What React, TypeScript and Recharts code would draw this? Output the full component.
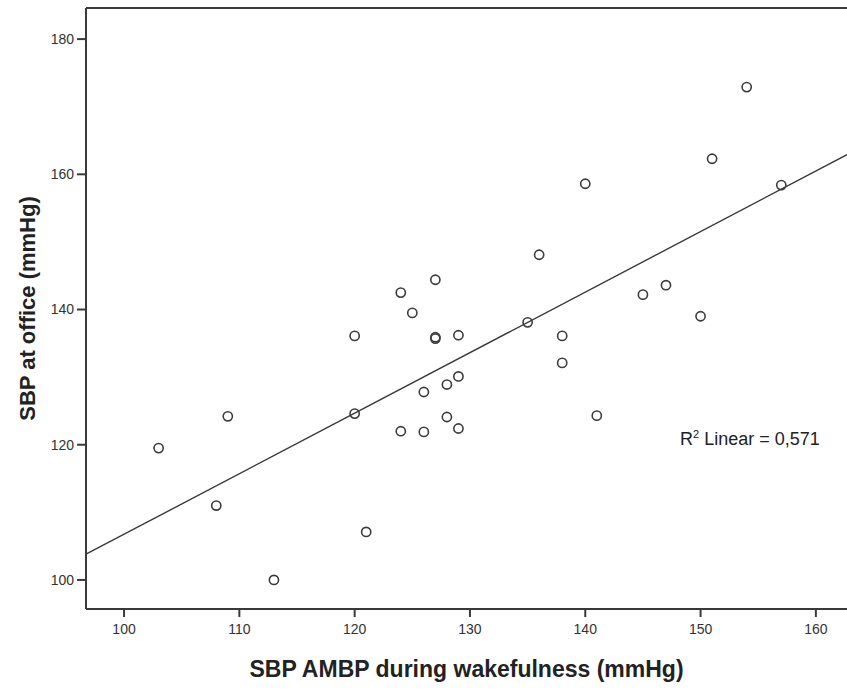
import React from 'react';
import { ScatterChart, Scatter, XAxis, YAxis, ReferenceLine } from 'recharts';

// SBP AMBP during wakefulness (x) vs SBP at office (y)
const ambpValues = [103, 109, 108, 113, 120, 120, 121, 124, 124, 125, 126, 126, 127, 127, 127, 128, 128, 129, 129, 129, 135, 136, 138, 138, 140, 141, 145, 147, 150, 151, 154, 157];
const officeValues = [119.5, 124.2, 111.0, 100.0, 124.6, 136.1, 107.1, 142.5, 122.0, 139.5, 127.8, 121.9, 144.4, 135.9, 135.7, 128.9, 124.1, 136.2, 130.1, 122.4, 138.1, 148.1, 136.1, 132.1, 158.6, 124.3, 142.2, 143.6, 139.0, 162.3, 172.9, 158.4];

const xTicks = [100, 110, 120, 130, 140, 150, 160];
const yTicks = [100, 120, 140, 160, 180];

// fit line ends, read at the plot edges
const fitX = [96.7, 162.7];
const fitY = [103.8, 162.9];

const points = ambpValues.map((x, i) => ({ x, y: officeValues[i] }));

const X_DOMAIN = [96.7, 162.7];
const Y_DOMAIN = [95.7, 184.6];

const axisColor = '#3a3a3a';
const font = '"Liberation Sans", Arial, sans-serif';

const Ring = (props: any) => {
  const { cx, cy } = props;
  if (cx == null || cy == null) return null;
  return <circle cx={cx} cy={cy} r={4.6} fill="none" stroke="#3c3c3c" strokeWidth={1.6} />;
};

export default function App() {
  return (
    <div style={{ position: 'absolute', left: 0, top: 0, width: 847, height: 691, background: '#fff', fontFamily: font }}>
      <ScatterChart width={847} height={691} margin={{ top: 8, right: 0, bottom: 0, left: 0 }}>
        <XAxis
          type="number"
          dataKey="x"
          domain={X_DOMAIN}
          ticks={xTicks}
          allowDataOverflow
          height={82}
          axisLine={{ stroke: axisColor, strokeWidth: 2 }}
          tickLine={{ stroke: axisColor, strokeWidth: 2 }}
          tickSize={8}
          tickMargin={7}
          tick={{ fill: '#333', fontSize: 14, fontFamily: font }}
          label={{
            value: 'SBP AMBP during wakefulness (mmHg)',
            position: 'insideBottom',
            offset: 14,
            style: { fill: '#222', fontSize: 23, fontWeight: 'bold', fontFamily: font },
          }}
        />
        <YAxis
          type="number"
          dataKey="y"
          domain={Y_DOMAIN}
          ticks={yTicks}
          allowDataOverflow
          width={86}
          axisLine={{ stroke: axisColor, strokeWidth: 2 }}
          tickLine={{ stroke: axisColor, strokeWidth: 2 }}
          tickSize={9}
          tickMargin={3}
          tick={{ fill: '#333', fontSize: 14, fontFamily: font }}
          label={{
            value: 'SBP at office (mmHg)',
            angle: -90,
            position: 'insideLeft',
            offset: 27,
            style: { fill: '#222', fontSize: 22, fontWeight: 'bold', fontFamily: font, textAnchor: 'middle' },
          }}
        />
        <ReferenceLine y={Y_DOMAIN[1]} stroke={axisColor} strokeWidth={2} />
        <ReferenceLine
          segment={[{ x: fitX[0], y: fitY[0] }, { x: fitX[1], y: fitY[1] }]}
          stroke="#3a3a3a"
          strokeWidth={1.4}
          ifOverflow="visible"
        />
        <Scatter data={points} shape={<Ring />} isAnimationActive={false} />
      </ScatterChart>
      <div style={{ position: 'absolute', left: 680, top: 428, fontSize: 18, color: '#222', whiteSpace: 'nowrap' }}>
        R<sup style={{ fontSize: 11 }}>2</sup> Linear = 0,571
      </div>
    </div>
  );
}
